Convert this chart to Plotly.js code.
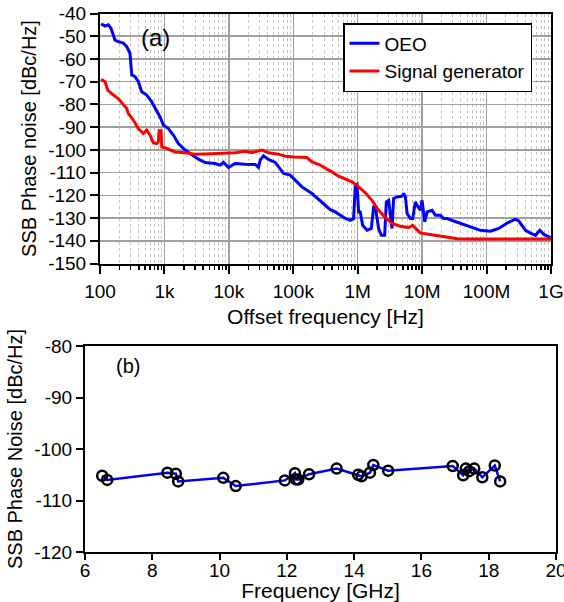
<!DOCTYPE html>
<html><head><meta charset="utf-8">
<script src="https://cdn.plot.ly/plotly-3.0.1.min.js"></script>
<style>html,body{margin:0;padding:0;background:#fff}#chart{width:564px;height:602px}</style>
</head><body><div id="chart"></div>
<script>
// ---- Panel (a): SSB phase noise vs offset frequency ----
const oeoFreq = [104,120,135,148,171,192,230,260,292,311,350,394,444,532,636,760,855,964,1150,1377,1647,2094,2661,3370,4285,6124,7325,8245,9860,12540,17920,25640,28840,30630,34500,41250,52360,62650,70470,89700,107200,136200,195000,262400,314000,375200,448700,641400,767400,863600,918000,975000,1033000,1097000,1191000,1396000,1627000,1766000,1876000,2112000,2327000,2620000,2782000,3021000,3410000,3610000,4080000,4880000,5170000,5500000,5840000,6570000,7130000,7850000,8350000,9400000,9980000,10960000,11940000,14280000,16070000,19220000,21630000,24430000,30930000,39300000,56200000,80400000,115000000,154900000,209100000,281000000,316000000,403000000,481000000,575000000,671000000,774000000,893000000,1000000000];
const oeoNoise = [-44.6,-45.5,-45.0,-46.5,-51.7,-52.4,-53.0,-54.6,-57.5,-67.0,-67.8,-70.0,-74.4,-75.9,-78.9,-82.5,-85.5,-89.1,-90.6,-93.5,-97.2,-100.1,-102.3,-104.1,-105.6,-106.0,-106.7,-105.5,-107.7,-106.0,-106.3,-106.4,-107.7,-104.5,-102.6,-104.2,-105.5,-108.2,-110.4,-111.1,-113.3,-116.3,-119.2,-122.5,-124.4,-126.3,-127.3,-130.2,-131.0,-130.2,-115.6,-115.2,-127.3,-127.3,-133.2,-135.4,-134.6,-125.1,-125.1,-134.6,-137.6,-137.6,-122.9,-122.2,-134.6,-121.4,-120.7,-120.4,-119.2,-120.7,-128.0,-130.2,-130.2,-122.9,-124.4,-126.6,-122.2,-131.7,-127.3,-126.6,-128.8,-128.8,-130.2,-130.2,-131.3,-132.4,-133.9,-135.4,-135.8,-134.6,-132.2,-130.5,-131.3,-135.4,-136.6,-137.6,-135.4,-137.2,-138.1,-138.8];
const sgFreq = [104,120,132,161,192,230,260,275,329,394,471,532,598,673,760,805,826,888,910,1088,1462,2094,2992,4285,6124,8750,12540,17920,22750,32590,41250,59000,75000,100900,136200,163000,195000,262400,353000,375200,505000,641400,815000,1033000,1312000,1667000,2112000,2686000,3410000,4590000,6180000,7130000,8350000,9400000,11220000,16070000,22960000,27480000,34900000,63200000,115000000,209100000,378000000,689000000,1000000000];
const sgNoise = [-69.0,-70.0,-73.7,-75.9,-77.4,-80.3,-81.8,-84.0,-86.9,-90.6,-92.8,-91.3,-93.5,-96.9,-97.2,-96.5,-91.6,-91.6,-98.7,-99.4,-100.9,-101.3,-101.9,-101.8,-101.6,-101.6,-101.3,-100.6,-101.2,-100.1,-101.3,-101.9,-102.8,-103.1,-103.4,-103.4,-105.3,-106.7,-108.9,-109.2,-111.6,-113.0,-114.1,-116.3,-118.9,-122.2,-126.6,-129.8,-132.4,-133.6,-134.2,-133.2,-135.1,-136.6,-136.9,-137.6,-138.1,-138.4,-139.1,-139.2,-139.2,-139.1,-139.2,-139.3,-139.2];
const xTickValsA = [1e2,1e3,1e4,1e5,1e6,1e7,1e8,1e9];
const xTickTextA = ['100','1k','10k','100k','1M','10M','100M','1G'];
const yTickValsA = [-150,-140,-130,-120,-110,-100,-90,-80,-70,-60,-50,-40];

// ---- Panel (b): phase noise vs carrier frequency ----
const carrierGHz = [6.51,6.66,8.45,8.70,8.77,10.11,10.48,11.94,12.24,12.27,12.34,12.66,13.48,14.12,14.22,14.47,14.57,15.01,16.93,17.24,17.32,17.42,17.57,17.81,18.18,18.34];
const carrierNoise = [-105.2,-106.0,-104.6,-104.8,-106.3,-105.6,-107.2,-106.1,-104.7,-105.9,-105.9,-104.9,-103.8,-105.0,-105.3,-104.6,-103.1,-104.2,-103.3,-105.1,-103.8,-104.3,-103.8,-105.5,-103.2,-106.3];
const xTickValsB = [6,8,10,12,14,16,18,20];
const yTickValsB = [-120,-110,-100,-90,-80];

const minorVals = [];
for (let d = 2; d < 9; d++) for (let m = 2; m <= 9; m++) minorVals.push(m * Math.pow(10, d));

const FONT = 'Liberation Sans, Arial, sans-serif';
const W = 564, H = 602;
const px = v => v / W, py = v => 1 - v / H;

const traces = [
  {x: oeoFreq, y: oeoNoise, type: 'scatter', mode: 'lines', name: 'OEO',
   line: {color: '#0000ff', width: 3}, xaxis: 'x', yaxis: 'y'},
  {x: sgFreq, y: sgNoise, type: 'scatter', mode: 'lines', name: 'Signal generator',
   line: {color: '#ff0000', width: 3}, xaxis: 'x', yaxis: 'y'},
  {x: carrierGHz, y: carrierNoise, type: 'scatter', mode: 'lines+markers', showlegend: false,
   line: {color: '#0000ff', width: 2.5},
   marker: {symbol: 'circle-open', color: '#000', size: 10, line: {width: 2.5, color: '#000'}},
   xaxis: 'x2', yaxis: 'y2'}
];

const axBase = {showline: true, linecolor: '#000', linewidth: 2, mirror: true,
  ticks: 'outside', tickcolor: '#000', tickwidth: 2, zeroline: false,
  ticklabeloverflow: 'allow',
  tickfont: {family: FONT, size: 19, color: '#000'}};

const layout = {
  width: W, height: H, margin: {l: 0, r: 0, t: 0, b: 0},
  paper_bgcolor: '#fff', plot_bgcolor: '#fff',
  font: {family: FONT, color: '#000'},
  showlegend: true,
  legend: {x: px(343), y: py(23), xanchor: 'left', yanchor: 'top',
    bgcolor: '#fff', bordercolor: '#000', borderwidth: 1.5,
    font: {family: FONT, size: 19, color: '#000'}},
  xaxis: Object.assign({}, axBase, {
    type: 'log', range: [2, 9], domain: [px(100), px(551)], anchor: 'y',
    tickmode: 'array', tickvals: xTickValsA, ticktext: xTickTextA, ticklen: 8,
    ticklabelstandoff: 2,
    showgrid: true, gridcolor: '#a0a0a0', gridwidth: 1.5,
    minor: {tickmode: 'array', tickvals: minorVals, ticks: 'outside', ticklen: 4, tickwidth: 1.5,
      tickcolor: '#000', showgrid: true, gridcolor: '#c4c4c4', griddash: 'dot', gridwidth: 1},
    title: {text: 'Offset frequency [Hz]', font: {family: FONT, size: 21, color: '#000'}, standoff: 8}
  }),
  yaxis: Object.assign({}, axBase, {
    range: [-150, -40], domain: [py(263.5), py(13.5)], anchor: 'x',
    tickmode: 'array', tickvals: yTickValsA, ticktext: yTickValsA.map(String), ticklen: 8,
    showgrid: true, gridcolor: '#a0a0a0', gridwidth: 1.5,
    title: {text: 'SSB Phase noise [dBc/Hz]', font: {family: FONT, size: 20, color: '#000'}, standoff: 6}
  }),
  xaxis2: Object.assign({}, axBase, {
    range: [6, 20], domain: [px(85), px(556)], anchor: 'y2',
    tickmode: 'array', tickvals: xTickValsB, ticktext: xTickValsB.map(String), ticklen: 6,
    ticklabelstandoff: -6,
    showgrid: false,
    title: {text: 'Frequency [GHz]', font: {family: FONT, size: 21, color: '#000'}, standoff: 3}
  }),
  yaxis2: Object.assign({}, axBase, {
    range: [-120, -80], domain: [py(552), py(346)], anchor: 'x2',
    tickmode: 'array', tickvals: yTickValsB, ticktext: yTickValsB.map(String), ticklen: 7,
    showgrid: false,
    title: {text: 'SSB Phase Noise [dBc/Hz]', font: {family: FONT, size: 20, color: '#000'}, standoff: 6}
  }),
  annotations: [
    {text: '(a)', x: px(155), y: py(38), xref: 'paper', yref: 'paper', showarrow: false,
     xanchor: 'center', yanchor: 'middle', font: {family: FONT, size: 24, color: '#000'}},
    {text: '(b)', x: px(128), y: py(366), xref: 'paper', yref: 'paper', showarrow: false,
     xanchor: 'center', yanchor: 'middle', font: {family: FONT, size: 20, color: '#000'}}
  ]
};

Plotly.newPlot('chart', traces, layout, {displayModeBar: false, staticPlot: true});
</script>
</body></html>
